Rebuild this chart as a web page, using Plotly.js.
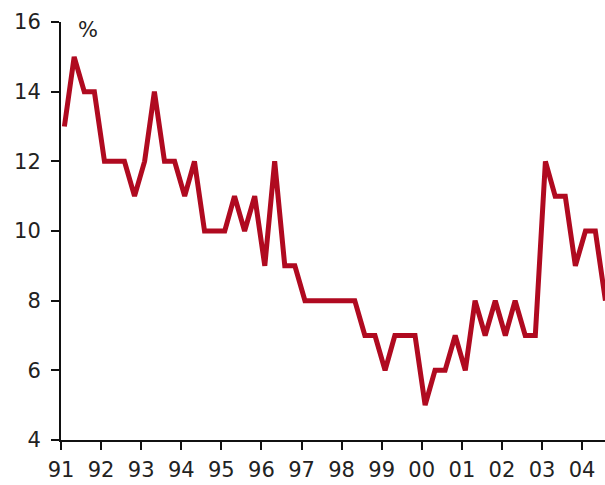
<!DOCTYPE html>
<html>
<head>
<meta charset="utf-8">
<script src="https://cdn.plot.ly/plotly-3.0.1.min.js"></script>
<style>html,body{margin:0;padding:0;background:#fff;}#chart{width:605px;height:485px;}</style>
</head>
<body>
<div id="chart"></div>
<script>
// Quarterly observations, 1991 Q1 .. 2004 Q3
const startYear = 1991;
const values = [
  13, 15, 14, 14,
  12, 12, 12, 11,
  12, 14, 12, 12,
  11, 12, 10, 10,
  10, 11, 10, 11,
  9, 12, 9, 9,
  8, 8, 8, 8,
  8, 8, 7, 7,
  6, 7, 7, 7,
  5, 6, 6, 7,
  6, 8, 7, 8,
  7, 8, 7, 7,
  12, 11, 11, 9,
  10, 10, 8
];
const tickYears = [1991,1992,1993,1994,1995,1996,1997,1998,1999,2000,2001,2002,2003,2004];
const tickLabels = ["91","92","93","94","95","96","97","98","99","00","01","02","03","04"];
const yTicks = [4, 6, 8, 10, 12, 14, 16];

const dates = values.map((v, i) => {
  const y = startYear + Math.floor(i / 4);
  const m = 3 * (i % 4) + 2;
  return y + "-" + String(m).padStart(2, "0") + "-01";
});

const font = {family: "DejaVu Sans, sans-serif", size: 21, color: "#222"};

Plotly.newPlot("chart", [{
  x: dates,
  y: values,
  type: "scatter",
  mode: "lines",
  line: {color: "#b00a20", width: 5},
  cliponaxis: true,
  hoverinfo: "skip"
}], {
  width: 605,
  height: 485,
  margin: {l: 61, r: 0, t: 22, b: 45},
  paper_bgcolor: "#fff",
  plot_bgcolor: "#fff",
  showlegend: false,
  font: font,
  xaxis: {
    type: "date",
    range: ["1991-01-01", "2004-07-28"],
    tickvals: tickYears.map(y => y + "-01-01"),
    ticktext: tickLabels,
    ticks: "outside",
    ticklen: 8,
    tickwidth: 2,
    tickcolor: "#111",
    showline: true,
    linecolor: "#111",
    linewidth: 2,
    showgrid: false,
    zeroline: false,
    tickfont: font,
    ticklabelstandoff: 2
  },
  yaxis: {
    range: [4, 16],
    tickvals: yTicks,
    ticks: "outside",
    ticklen: 8,
    tickwidth: 2,
    tickcolor: "#111",
    showline: true,
    linecolor: "#111",
    linewidth: 2,
    showgrid: false,
    zeroline: false,
    tickfont: font,
    ticklabelstandoff: 6
  },
  annotations: [{
    text: "%",
    xref: "paper", yref: "paper",
    x: 0.0496, y: 0.981,
    xanchor: "center", yanchor: "middle",
    showarrow: false,
    font: font
  }]
}, {displayModeBar: false, staticPlot: true});
</script>
</body>
</html>
